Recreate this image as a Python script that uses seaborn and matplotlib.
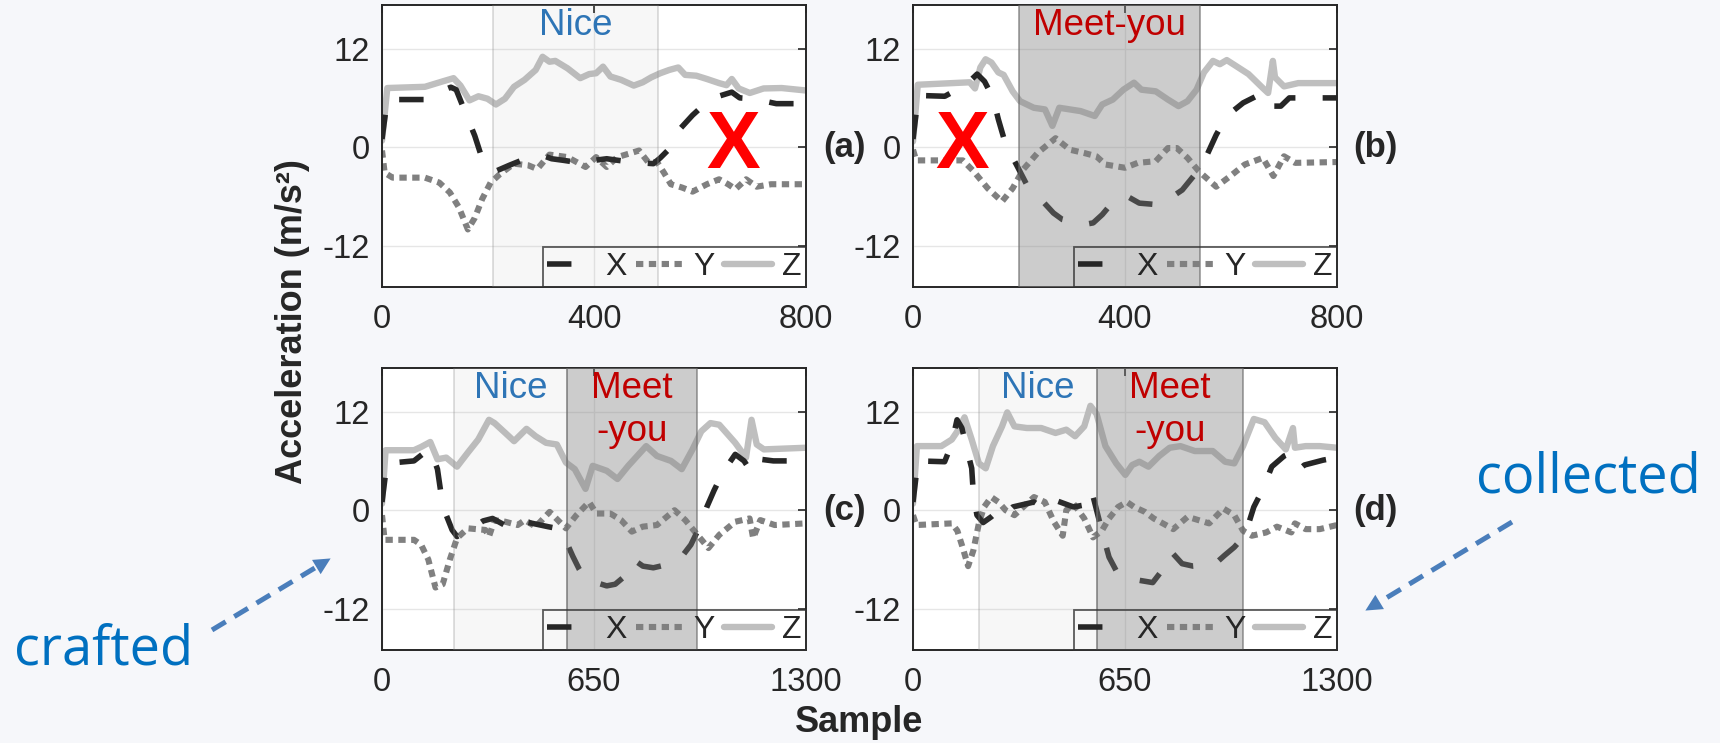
import matplotlib
matplotlib.use("Agg")
import matplotlib.pyplot as plt
import seaborn as sns
from matplotlib.lines import Line2D
from matplotlib.patches import FancyArrowPatch

# ---- panel (a): 0-800 samples, "Nice"
a_x_s = [0, 10, 80, 110, 130, 140, 158, 175, 189, 200, 215, 240, 263, 303, 320, 343, 384, 400, 424, 468, 512, 525, 539, 559, 586, 620, 660, 675, 700, 744, 800]
a_x_v = [1.0, 5.8, 5.8, 6.8, 7.3, 7.0, 4.1, 1.4, -1.4, -2.5, -2.9, -2.2, -1.6, -1.0, -1.4, -1.6, -2.0, -1.6, -1.4, -1.8, -2.0, -1.3, -0.4, 2.0, 3.9, 5.9, 6.7, 6.0, 5.9, 5.3, 5.3]
a_y_s = [0, 5, 20, 81, 108, 128, 145, 162, 175, 189, 205, 222, 249, 276, 293, 316, 350, 384, 404, 424, 444, 465, 485, 502, 519, 532, 545, 566, 586, 613, 636, 653, 667, 687, 707, 734, 800]
a_y_v = [-0.4, -3.1, -3.7, -3.7, -4.3, -5.5, -7.3, -10.0, -8.6, -6.3, -4.3, -3.3, -2.0, -2.2, -2.65, -0.9, -1.2, -2.4, -1.2, -2.4, -1.2, -0.8, -0.4, -1.8, -1.8, -3.1, -4.5, -4.9, -5.4, -4.5, -3.9, -4.5, -5.1, -3.9, -4.8, -4.5, -4.5]
a_z_s = [0, 10, 81, 114, 135, 148, 165, 182, 199, 215, 232, 249, 269, 290, 303, 316, 327, 350, 374, 391, 404, 417, 431, 451, 475, 492, 508, 525, 542, 559, 572, 593, 613, 636, 650, 660, 673, 694, 720, 754, 800]
a_z_v = [0.8, 7.2, 7.35, 8.0, 8.4, 7.5, 5.7, 6.2, 5.9, 5.2, 5.9, 7.35, 8.2, 9.4, 11.0, 10.4, 10.5, 9.6, 8.4, 8.9, 9.0, 9.8, 8.6, 8.2, 7.5, 7.9, 8.5, 9.0, 9.4, 9.7, 8.8, 8.7, 8.3, 7.8, 7.55, 8.3, 7.15, 6.6, 7.15, 7.2, 6.9]

# ---- panel (b): 0-800 samples, "Meet-you"
b_x_s = [0, 10, 60, 100, 121, 135, 151, 161, 175, 195, 215, 245, 265, 282, 323, 340, 357, 383, 405, 427, 464, 485, 508, 532, 555, 572, 592, 623, 660, 670, 680, 694, 710, 747, 800]
b_x_v = [1.0, 6.3, 6.2, 7.6, 8.9, 8.0, 6.0, 3.4, 0.3, -2.1, -4.6, -6.6, -8.0, -8.8, -9.4, -9.2, -8.2, -6.2, -6.0, -6.8, -7.0, -6.2, -5.2, -3.3, -0.9, 1.5, 3.8, 5.4, 6.6, 6.2, 5.0, 5.0, 6.0, 6.0, 6.0]
b_y_s = [0, 6, 94, 114, 141, 168, 188, 208, 235, 269, 296, 323, 346, 363, 400, 424, 458, 481, 498, 518, 539, 572, 599, 626, 660, 680, 700, 721, 800]
b_y_v = [-0.3, -1.6, -1.6, -2.9, -5.0, -6.6, -5.0, -2.7, -0.7, 1.1, -0.3, -0.7, -1.1, -2.1, -2.5, -1.9, -1.7, -0.1, -0.1, -1.3, -2.9, -4.8, -3.5, -2.1, -1.3, -3.5, -1.1, -1.9, -1.8]
b_z_s = [0, 9, 107, 117, 127, 137, 148, 161, 171, 188, 202, 228, 249, 263, 276, 296, 316, 343, 357, 377, 397, 417, 431, 458, 481, 501, 518, 535, 549, 566, 579, 592, 609, 633, 660, 670, 679, 683, 700, 727, 800]
b_z_v = [0.7, 7.6, 7.9, 7.15, 9.7, 10.7, 10.3, 9.1, 8.8, 6.8, 5.6, 4.8, 4.6, 2.6, 4.8, 4.6, 4.4, 3.8, 5.2, 5.8, 7.0, 7.85, 7.0, 6.8, 5.8, 5.0, 5.6, 7.0, 9.1, 10.5, 10.1, 10.6, 9.9, 8.9, 7.2, 6.6, 10.5, 8.5, 7.4, 7.8, 7.8]

# ---- panel (c): 0-1300 samples, crafted "Nice" + "Meet-you"
c_x_s = [0, 15, 98, 130, 148, 170, 181, 197, 215, 230, 284, 310, 339, 394, 415, 438, 509, 535, 558, 585, 605, 624, 689, 715, 739, 771, 800, 832, 897, 920, 947, 974, 996, 1018, 1045, 1083, 1110, 1133, 1160, 1200, 1300]
c_x_v = [1.0, 5.7, 6.0, 7.0, 7.4, 5.0, 2.0, -0.6, -2.4, -3.2, -2.0, -1.3, -1.0, -2.2, -1.8, -1.4, -2.0, -2.2, -3.2, -5.6, -7.2, -8.4, -9.2, -9.0, -8.2, -6.0, -6.8, -7.0, -6.4, -5.6, -4.2, -2.0, 0.4, 2.4, 4.6, 6.8, 6.0, 4.6, 6.2, 6.0, 6.0]
c_y_s = [0, 8, 98, 120, 142, 164, 186, 208, 230, 263, 317, 328, 345, 378, 416, 438, 471, 514, 564, 596, 635, 657, 700, 733, 766, 799, 843, 897, 930, 963, 1001, 1034, 1083, 1127, 1138, 1160, 1204, 1300]
c_y_v = [-0.6, -3.6, -3.6, -4.2, -6.0, -9.4, -9.0, -6.0, -3.4, -2.2, -2.4, -3.2, -1.2, -1.4, -1.8, -1.2, -2.0, -0.2, -2.2, -0.6, 1.0, -0.4, -0.4, -1.2, -2.6, -2.0, -1.8, 0.0, -1.2, -2.8, -4.6, -3.0, -1.4, -1.0, -3.4, -1.2, -1.8, -1.6]
c_z_s = [0, 11, 98, 120, 148, 170, 197, 230, 263, 295, 328, 345, 378, 405, 443, 471, 503, 536, 564, 591, 624, 646, 689, 722, 755, 810, 843, 886, 919, 952, 979, 1007, 1034, 1083, 1116, 1133, 1149, 1171, 1300]
c_z_v = [0.8, 7.3, 7.3, 7.7, 8.3, 6.2, 6.4, 5.3, 7.0, 8.6, 11.0, 10.6, 9.4, 8.4, 9.9, 9.0, 8.2, 8.0, 5.8, 5.0, 2.6, 5.4, 4.8, 3.8, 5.4, 7.8, 6.6, 6.0, 5.0, 7.4, 9.6, 10.6, 10.4, 8.2, 6.4, 11.0, 8.0, 7.4, 7.6]

# ---- panel (d): 0-1300 samples, collected "Nice" + "Meet-you"
d_x_s = [0, 15, 97, 118, 135, 150, 163, 180, 185, 196, 215, 240, 273, 290, 306, 371, 400, 437, 492, 520, 547, 563, 579, 601, 625, 645, 705, 735, 766, 793, 825, 859, 924, 955, 985, 1012, 1030, 1045, 1072, 1100, 1138, 1150, 1165, 1182, 1200, 1258, 1300]
d_x_v = [1.0, 6.0, 5.9, 8.0, 11.0, 10.0, 7.8, 5.1, 2.0, -0.6, -1.5, -0.8, 0.4, -0.2, 0.4, 1.0, 0.2, 1.2, 0.4, 0.6, 2.5, 0.0, -2.5, -5.7, -7.5, -8.2, -8.6, -8.8, -7.2, -5.1, -6.5, -6.8, -6.6, -5.5, -4.5, -3.3, -1.5, 0.4, 2.5, 5.3, 6.6, 6.8, 6.1, 4.9, 5.5, 6.1, 6.4]
d_y_s = [0, 10, 119, 136, 152, 169, 185, 202, 218, 240, 262, 284, 311, 338, 371, 404, 432, 459, 470, 492, 525, 552, 579, 601, 629, 656, 678, 711, 738, 766, 798, 842, 875, 908, 952, 985, 1012, 1039, 1083, 1116, 1160, 1171, 1204, 1247, 1300]
d_y_v = [-0.6, -1.8, -1.6, -2.5, -4.5, -6.8, -4.9, -1.6, 0.4, 1.6, 1.0, 0.0, -0.6, 0.4, 1.6, 1.0, -1.4, -3.1, 0.0, 0.8, -1.0, -3.3, -2.5, -1.0, 0.4, 1.0, 0.4, -0.2, -1.0, -1.6, -2.3, -0.8, -1.2, -1.6, 0.2, -0.6, -2.5, -3.1, -2.7, -2.0, -2.7, -1.6, -2.3, -2.3, -1.8]
d_z_s = [0, 12, 87, 119, 136, 158, 180, 202, 223, 245, 273, 289, 311, 349, 393, 437, 470, 497, 525, 544, 563, 590, 623, 651, 672, 694, 722, 755, 787, 820, 864, 919, 957, 985, 1012, 1045, 1078, 1111, 1143, 1165, 1171, 1204, 1247, 1300]
d_z_v = [0.8, 7.8, 7.8, 8.6, 9.6, 11.3, 8.6, 5.7, 5.1, 7.8, 10.2, 11.9, 10.2, 10.0, 10.0, 9.4, 9.8, 9.0, 10.2, 12.7, 11.7, 7.8, 5.7, 4.3, 5.5, 5.9, 5.3, 6.6, 7.6, 7.8, 7.2, 7.2, 5.9, 5.7, 7.8, 11.1, 10.7, 8.8, 7.4, 10.0, 7.6, 7.8, 7.8, 7.6]

# word segments (start, end, label, kind)
a_spans = [(210, 521, "Nice", "nice")]
b_spans = [(200, 542, "Meet-you", "meet")]
c_spans = [(221, 566, "Nice", "nice"), (566, 967, "Meet\n-you", "meet")]
d_spans = [(202, 563, "Nice", "nice"), (563, 1013, "Meet\n-you", "meet")]

panel_names = ["(a)", "(b)", "(c)", "(d)"]
x_ticks_top = [0, 400, 800]
x_ticks_bottom = [0, 650, 1300]
y_ticks = [-12, 0, 12]

sns.set_style("white")
plt.rcParams["font.family"] = ["Liberation Sans", "DejaVu Sans"]
plt.rcParams["axes.axisbelow"] = True
plt.rcParams["axes.unicode_minus"] = False

fig = plt.figure(figsize=(17.2, 7.43), dpi=100)
fig.patch.set_facecolor("#f6f7fa")

W, H = 1720, 743
def box(left, top, right, bottom):
    return [left / W, 1 - bottom / H, (right - left) / W, (bottom - top) / H]

ax_a = fig.add_axes(box(382, 5, 806, 287))
ax_b = fig.add_axes(box(913, 5, 1337, 287))
ax_c = fig.add_axes(box(382, 368, 806, 650))
ax_d = fig.add_axes(box(913, 368, 1337, 650))

panels = [
    (ax_a, a_x_s, a_x_v, a_y_s, a_y_v, a_z_s, a_z_v, a_spans, 800, x_ticks_top),
    (ax_b, b_x_s, b_x_v, b_y_s, b_y_v, b_z_s, b_z_v, b_spans, 800, x_ticks_top),
    (ax_c, c_x_s, c_x_v, c_y_s, c_y_v, c_z_s, c_z_v, c_spans, 1300, x_ticks_bottom),
    (ax_d, d_x_s, d_x_v, d_y_s, d_y_v, d_z_s, d_z_v, d_spans, 1300, x_ticks_bottom),
]

for i, (ax, xs, xv, ys, yv, zs, zv, spans, xmax, xt) in enumerate(panels):
    ax.set_facecolor("white")
    sns.lineplot(x=zs, y=zv, ax=ax, color="#bfbfbf", lw=4.6, label="Z",
                 estimator=None, sort=False, zorder=2)
    sns.lineplot(x=ys, y=yv, ax=ax, color="#808080", lw=4.4, label="Y",
                 linestyle=(0, (1.2, 0.9)), estimator=None, sort=False, zorder=2.1)
    sns.lineplot(x=xs, y=xv, ax=ax, color="#262626", lw=4.0, label="X",
                 linestyle=(0, (4.4, 4.9)), estimator=None, sort=False, zorder=2.2)

    for s0, s1, word, kind in spans:
        if kind == "nice":
            ax.axvspan(s0, s1, facecolor=(0.5, 0.5, 0.5, 0.06),
                       edgecolor=(0.55, 0.55, 0.55, 0.3), lw=1.3, zorder=3)
            col = "#2e75b6"
        else:
            ax.axvspan(s0, s1, facecolor=(0.5, 0.5, 0.5, 0.4),
                       edgecolor=(0.4, 0.4, 0.4, 0.6), lw=1.3, zorder=3)
            col = "#c00000"
        # baseline of the last line of the label
        y_base = 0.895 if "\n" not in word else 0.74
        ax.text((s0 + s1) / 2, y_base, word, color=col, fontsize=26.5,
                ha="center", va="baseline", linespacing=1.3,
                transform=ax.get_xaxis_transform(), zorder=6)

    ax.set_xlim(0, xmax)
    ax.set_ylim(-17, 17.3)
    ax.set_xticks(xt)
    ax.set_yticks(y_ticks)
    ax.set_xlabel("")
    ax.set_ylabel("")
    ax.grid(True, color="#e6e6e6", lw=1.0)
    ax.tick_params(direction="in", length=6, width=1.2, top=True, right=True,
                   labelsize=23.5, colors="#262626")
    ax.tick_params(axis="x", pad=12)
    ax.tick_params(axis="y", pad=9)
    for sp in ax.spines.values():
        sp.set_color("#262626")
        sp.set_linewidth(1.4)

    handles, labels = ax.get_legend_handles_labels()
    order = [labels.index(k) for k in ["X", "Y", "Z"]]
    leg = ax.legend([handles[k] for k in order], [labels[k] for k in order],
                    loc="lower right", ncol=3, fontsize=23, frameon=True,
                    fancybox=False, borderaxespad=0, borderpad=0.15,
                    handlelength=1.5, handletextpad=0.3, columnspacing=0.3)
    leg.get_frame().set_facecolor("none")
    leg.get_frame().set_edgecolor("#333333")
    leg.get_frame().set_linewidth(1.3)
    leg.set_zorder(5)

    ax.text(1.09, 0, panel_names[i], fontsize=25, fontweight="bold",
            ha="center", va="center", transform=ax.get_yaxis_transform())

# red crosses over the mismatching parts
ax_a.text(662, 0, "X", color="#ff0000", fontsize=58, fontweight="bold",
          ha="center", va="center", zorder=7)
ax_b.text(92, 0, "X", color="#ff0000", fontsize=58, fontweight="bold",
          ha="center", va="center", zorder=7)

fig.text(292 / W, 1 - 322 / H, "Acceleration (m/s²)", rotation=90,
         fontsize=26, fontweight="bold", color="#262626", ha="center", va="center")
fig.text(859 / W, 1 - 722 / H, "Sample", fontsize=26, fontweight="bold",
         color="#262626", ha="center", va="center")

# side annotations
blue_txt = "#0070c0"
blue_arr = "#4a7ebb"
fig.text(104 / W, 1 - 650 / H, "crafted", fontsize=39, color=blue_txt,
         family="Open Sans", ha="center", va="center")
fig.text(1588 / W, 1 - 478 / H, "collected", fontsize=39, color=blue_txt,
         family="Open Sans", ha="center", va="center")

def dashed_arrow(p0, p1):
    x0, y0 = p0[0] / W, 1 - p0[1] / H
    x1, y1 = p1[0] / W, 1 - p1[1] / H
    xm, ym = x0 + 0.86 * (x1 - x0), y0 + 0.86 * (y1 - y0)
    fig.add_artist(Line2D([x0, xm], [y0, ym], transform=fig.transFigure,
                          color=blue_arr, lw=3.6, linestyle=(0, (3.2, 2.0))))
    fig.add_artist(FancyArrowPatch((xm, ym), (x1, y1), transform=fig.transFigure,
                                   arrowstyle="-|>", mutation_scale=30,
                                   color=blue_arr, lw=0))

dashed_arrow((212, 630), (333, 557))
dashed_arrow((1512, 522), (1363, 612))

fig.savefig("out.png", dpi=100, facecolor=fig.get_facecolor())
